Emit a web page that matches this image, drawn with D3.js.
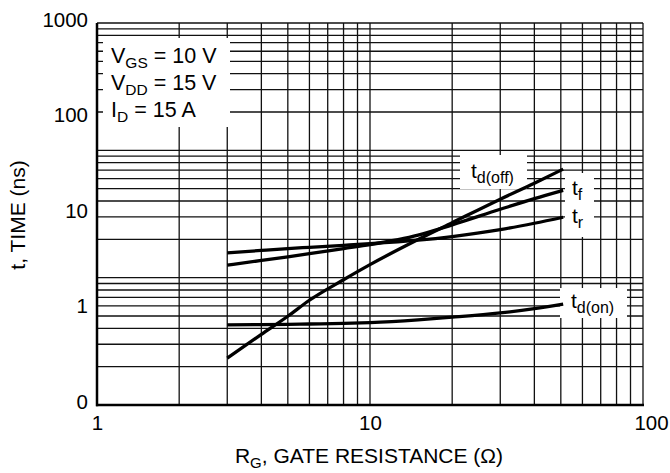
<!DOCTYPE html>
<html><head><meta charset="utf-8">
<script src="https://cdn.jsdelivr.net/npm/d3@7/dist/d3.min.js"></script>
<style>
body{margin:0;background:#fff;}
svg{display:block;font-family:"Liberation Sans",Arial,sans-serif;}
</style></head>
<body><svg id="c" width="670" height="473"></svg>
<script>
// ---- data ----
const rg = [3, 4, 5, 6, 8, 10, 15, 20, 30, 40, 51];
const tdOff = [0.31, 0.55, 0.85, 1.25, 2.05, 2.95, 5.4, 8.1, 14.3, 21, 29.5];
const tF    = [2.92, 3.26, 3.56, 3.84, 4.35, 4.78, 6.0, 7.7, 11.2, 14.5, 17.7];
const tR    = [3.91, 4.16, 4.35, 4.48, 4.70, 4.88, 5.32, 5.81, 6.86, 8.0, 9.25];
const tdOn  = [0.69, 0.695, 0.70, 0.705, 0.715, 0.73, 0.78, 0.83, 0.92, 1.02, 1.14];
const xTickVals = [1, 10, 100];
const xTickLabels = ["1", "10", "100"];
const yTickVals = [0.1, 1, 10, 100, 1000];
const yTickLabels = ["0", "1", "10", "100", "1000"];

const svg = d3.select("#c");
const L = 97, R = 643, T = 23, B = 405;
const x = d3.scaleLog().domain([1, 100]).range([L, R]);
const y = d3.scaleLog().domain([0.1, 1000]).range([B, T]);
const yGrid = d3.scaleLog().domain([1, 1000]).range([B, T]);

// grid
const g = svg.append("g");
g.selectAll("line.vx").data(x.ticks()).enter().append("line")
  .attr("x1", d => x(d)).attr("x2", d => x(d)).attr("y1", T).attr("y2", B)
  .attr("stroke", "#111").attr("stroke-width", 1.3);
g.selectAll("line.hy").data(yGrid.ticks()).enter().append("line")
  .attr("x1", L).attr("x2", R).attr("y1", d => yGrid(d)).attr("y2", d => yGrid(d))
  .attr("stroke", "#111").attr("stroke-width", 1.3);

// white boxes
const boxes = [[103, 38, 127, 89], [460, 155, 67, 34], [565, 173, 29, 64], [560, 288, 67, 30]];
svg.selectAll("rect.bx").data(boxes).enter().append("rect")
  .attr("x", d => d[0]).attr("y", d => d[1]).attr("width", d => d[2]).attr("height", d => d[3])
  .attr("fill", "#fff");

// axes borders
svg.append("line").attr("x1", L).attr("x2", L).attr("y1", T).attr("y2", B + 1.2)
  .attr("stroke", "#000").attr("stroke-width", 2.5);
svg.append("line").attr("x1", L - 1).attr("x2", R + 1).attr("y1", B).attr("y2", B)
  .attr("stroke", "#000").attr("stroke-width", 2.5);

// tick labels
const ya = svg.append("g").attr("transform", `translate(${L},0)`)
  .call(d3.axisLeft(y).tickValues(yTickVals).tickSize(0).tickPadding(9)
    .tickFormat((d, i) => yTickLabels[i]));
ya.select(".domain").remove();
ya.selectAll("text").attr("font-size", 20.5).attr("font-family", "Liberation Sans, Arial, sans-serif")
  .attr("fill", "#000").attr("dy", "0.15em");

const xa = svg.append("g").attr("transform", `translate(0,${B})`)
  .call(d3.axisBottom(x).tickValues(xTickVals).tickSize(0).tickPadding(10)
    .tickFormat((d, i) => xTickLabels[i]));
xa.select(".domain").remove();
xa.selectAll("text").attr("font-size", 20.5).attr("font-family", "Liberation Sans, Arial, sans-serif")
  .attr("fill", "#000").attr("dx", (d, i) => i === 2 ? 8 : 0);

// curves
const line = d3.line().x(d => x(d[0])).y(d => y(d[1])).curve(d3.curveMonotoneX);
[tdOff, tF, tR, tdOn].forEach(s => {
  svg.append("path").datum(rg.map((r, i) => [r, s[i]])).attr("d", line)
    .attr("fill", "none").attr("stroke", "#000").attr("stroke-width", 3.3);
});

// axis titles
const xt = svg.append("text").attr("x", 369).attr("y", 463).attr("text-anchor", "middle")
  .attr("font-size", 21).attr("fill", "#000");
xt.append("tspan").text("R");
xt.append("tspan").attr("font-size", 15).attr("dy", 5).text("G");
xt.append("tspan").attr("dy", -5).text(", GATE RESISTANCE (Ω)");

svg.append("text").attr("transform", "translate(25,215) rotate(-90)").attr("text-anchor", "middle")
  .attr("font-size", 21).attr("fill", "#000").text("t, TIME (ns)");

// conditions box text
function subText(xp, yp, main, sub, rest, fs, sfs) {
  const t = svg.append("text").attr("x", xp).attr("y", yp).attr("font-size", fs).attr("fill", "#000");
  t.append("tspan").text(main);
  t.append("tspan").attr("font-size", sfs).attr("dy", 5).text(sub);
  if (rest) t.append("tspan").attr("dy", -5).text(rest);
  return t;
}
subText(111, 63, "V", "GS", " = 10 V", 21.5, 15.5);
subText(111, 90, "V", "DD", " = 15 V", 21.5, 15.5);
subText(111, 117, "I", "D", " = 15 A", 21.5, 15.5);

// curve labels
subText(471, 178, "t", "d(off)", null, 21, 16);
subText(572, 195, "t", "f", null, 21, 16);
subText(572, 223, "t", "r", null, 21, 16);
subText(571, 308, "t", "d(on)", null, 21, 16);
</script></body></html>
